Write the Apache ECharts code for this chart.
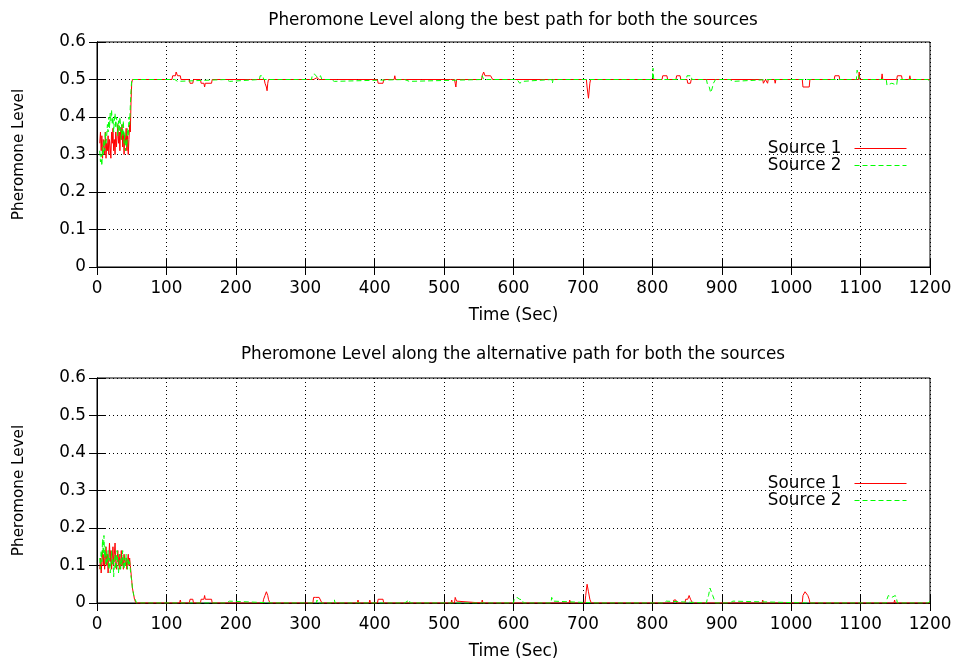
<!DOCTYPE html>
<html>
<head>
<meta charset="utf-8">
<title>Pheromone Level</title>
<script src="https://cdn.jsdelivr.net/npm/echarts@6/dist/echarts.min.js"></script>
<style>
  html, body { margin: 0; padding: 0; background: #fff; }
  #chart { width: 958px; height: 664px; }
</style>
</head>
<body>
<div id="chart"></div>
<script>
// Tick labels
const xTicks = [0, 100, 200, 300, 400, 500, 600, 700, 800, 900, 1000, 1100, 1200];
const yTicks = [0, 0.1, 0.2, 0.3, 0.4, 0.5, 0.6];
const seriesNames = ['Source 1', 'Source 2'];

// Warm-up phase, sampled every second
const warmupSec = [4,5,6,7,8,9,10,11,12,13,14,15,16,17,18,19,20,21,22,23,24,25,26,27,28,29,30,
  31,32,33,34,35,36,37,38,39,40,41,42,43,44,45,46,47,48,49,50];

const warmupBestS1 = [0.33,0.36,0.31,0.35,0.29,0.34,0.32,0.30,0.36,0.29,0.33,0.31,0.35,0.30,0.34,0.32,
  0.29,0.36,0.33,0.37,0.31,0.34,0.30,0.36,0.32,0.35,0.38,0.33,0.36,0.31,0.37,0.34,0.38,0.32,0.36,0.30,
  0.35,0.33,0.37,0.31,0.35,0.30,0.34,0.38,0.36,0.44,0.49];
const warmupBestS2 = [0.31,0.28,0.30,0.27,0.32,0.30,0.34,0.31,0.36,0.33,0.35,0.38,0.36,0.40,0.37,0.41,
  0.39,0.42,0.38,0.40,0.36,0.39,0.41,0.37,0.40,0.38,0.35,0.39,0.36,0.40,0.37,0.34,0.38,0.35,0.39,0.33,
  0.36,0.31,0.34,0.32,0.37,0.35,0.40,0.38,0.43,0.47,0.50];
const warmupAltS1 = [0.09,0.12,0.08,0.11,0.14,0.10,0.13,0.09,0.12,0.15,0.10,0.13,0.08,0.12,0.16,0.11,
  0.14,0.09,0.12,0.15,0.10,0.13,0.16,0.11,0.09,0.12,0.14,0.10,0.13,0.09,0.11,0.14,0.10,0.12,0.09,0.13,
  0.11,0.10,0.12,0.09,0.11,0.13,0.10,0.12,0.10,0.08,0.06];
const warmupAltS2 = [0.12,0.09,0.14,0.11,0.17,0.13,0.18,0.12,0.15,0.10,0.13,0.11,0.14,0.09,0.12,0.08,
  0.11,0.14,0.10,0.12,0.07,0.10,0.13,0.09,0.12,0.14,0.10,0.08,0.11,0.13,0.09,0.12,0.10,0.14,0.11,0.09,
  0.12,0.10,0.13,0.11,0.09,0.12,0.10,0.11,0.09,0.07,0.06];

// Steady phase: [second, level] samples around every excursion from the settled level
const steadyBestS1 = [[51,0.5],[108,0.5],[109,0.51],[113,0.51],[114,0.52],[116,0.51],[120,0.51],[121,0.5],
  [133,0.5],[134,0.49],[138,0.49],[139,0.5],
  [149,0.5],[150,0.49],[154,0.49],[155,0.48],[156,0.49],[165,0.49],[166,0.5],
  [201,0.5],[202,0.495],[203,0.5],[221,0.5],[222,0.495],[223,0.5],
  [241,0.5],[242,0.49],[244,0.48],[245,0.47],[246,0.49],[247,0.5],
  [312,0.5],[313,0.505],[317,0.505],[318,0.5],[320,0.5],[321,0.495],[322,0.5],
  [346,0.5],[347,0.495],[348,0.5],[375,0.5],[376,0.495],[377,0.5],
  [404,0.5],[405,0.49],[412,0.49],[413,0.5],[428,0.5],[429,0.51],[430,0.5],
  [467,0.5],[468,0.505],[469,0.5],[497,0.5],[498,0.495],[499,0.5],
  [509,0.5],[510,0.495],[511,0.5],[515,0.5],[516,0.49],[517,0.48],[518,0.5],
  [554,0.5],[555,0.51],[557,0.52],[559,0.51],[562,0.51],[564,0.515],[567,0.51],[569,0.51],[570,0.5],
  [680,0.5],[681,0.495],[682,0.5],
  [705,0.5],[706,0.48],[708,0.45],[710,0.49],[711,0.5],
  [814,0.5],[815,0.51],[821,0.51],[822,0.5],[834,0.5],[835,0.51],[840,0.51],[841,0.5],
  [850,0.5],[851,0.49],[855,0.49],[856,0.5],
  [959,0.5],[960,0.49],[962,0.49],[963,0.5],[965,0.5],[966,0.49],[967,0.5],
  [976,0.5],[977,0.49],[978,0.5],[990,0.5],[991,0.495],[992,0.5],
  [1016,0.5],[1017,0.48],[1026,0.48],[1027,0.5],[1040,0.5],[1041,0.495],[1042,0.5],
  [1062,0.5],[1063,0.51],[1069,0.51],[1070,0.5],[1097,0.5],[1098,0.52],[1099,0.5],
  [1130,0.5],[1131,0.515],[1132,0.5],[1152,0.5],[1153,0.51],[1159,0.51],[1160,0.5],
  [1170,0.5],[1171,0.51],[1172,0.5],[1200,0.5]];
const steadyBestS2 = [[51,0.5],[112,0.5],[113,0.495],[116,0.495],[117,0.5],
  [186,0.5],[187,0.495],[191,0.495],[192,0.5],
  [234,0.5],[235,0.51],[237,0.515],[239,0.51],[240,0.5],
  [254,0.5],[255,0.495],[256,0.5],[289,0.5],[290,0.495],[291,0.5],
  [309,0.5],[310,0.51],[313,0.515],[315,0.51],[318,0.505],[322,0.51],[324,0.5],
  [337,0.5],[338,0.495],[342,0.495],[343,0.5],
  [443,0.5],[444,0.495],[450,0.495],[451,0.5],
  [554,0.5],[555,0.51],[557,0.5],[572,0.5],[573,0.495],[574,0.5],
  [605,0.5],[606,0.495],[609,0.49],[613,0.495],[614,0.5],
  [655,0.5],[656,0.49],[657,0.5],
  [719,0.5],[720,0.495],[721,0.5],[744,0.5],[745,0.495],[746,0.5],[762,0.5],[763,0.495],[764,0.5],
  [800,0.5],[801,0.53],[802,0.5],[849,0.5],[850,0.51],[856,0.51],[857,0.5],
  [878,0.5],[879,0.49],[882,0.48],[884,0.465],[886,0.475],[888,0.49],[890,0.495],[891,0.5],
  [912,0.5],[913,0.495],[916,0.495],[917,0.5],[969,0.5],[970,0.495],[971,0.5],
  [1024,0.5],[1025,0.495],[1026,0.5],[1043,0.5],[1044,0.505],[1045,0.5],
  [1076,0.5],[1077,0.505],[1078,0.5],[1094,0.5],[1095,0.525],[1097,0.51],[1099,0.5],
  [1115,0.5],[1116,0.495],[1117,0.5],
  [1137,0.5],[1138,0.485],[1145,0.49],[1152,0.485],[1153,0.5],
  [1197,0.5],[1198,0.495],[1200,0.495]];
const steadyAltS1 = [[51,0.04],[52,0.03],[53,0.02],[54,0.01],[55,0.005],[56,0],
  [119,0],[120,0.008],[121,0],[133,0],[134,0.01],[138,0.01],[139,0],
  [149,0],[150,0.01],[154,0.01],[155,0.02],[156,0.01],[165,0.01],[166,0],
  [201,0],[202,0.005],[203,0],[221,0],[222,0.005],[223,0],
  [239,0],[240,0.01],[242,0.02],[244,0.03],[246,0.02],[247,0.01],[249,0],
  [311,0],[312,0.015],[315,0.015],[316,0.01],[320,0.015],[324,0],
  [346,0],[347,0.005],[348,0],[375,0],[376,0.008],[377,0],[392,0],[393,0.008],[394,0],
  [404,0],[405,0.01],[412,0.01],[413,0],
  [510,0],[511,0.008],[512,0],[515,0],[516,0.015],[517,0.02],[518,0.005],[519,0],
  [554,0],[555,0.008],[556,0],[680,0],[681,0.008],[682,0],
  [703,0],[704,0.02],[706,0.05],[708,0.03],[710,0.01],[712,0],
  [793,0],[794,0.005],[795,0],[830,0],[831,0.008],[834,0.008],[835,0],
  [847,0],[848,0.01],[851,0.01],[853,0.02],[855,0.01],[858,0],
  [947,0],[948,0.005],[949,0],[958,0],[959,0.008],[960,0],[990,0],[991,0.005],[992,0],
  [1016,0],[1017,0.02],[1020,0.03],[1024,0.02],[1026,0.01],[1027,0],
  [1120,0],[1121,0.005],[1122,0],[1148,0],[1149,0.008],[1150,0],[1200,0]];
const steadyAltS2 = [[51,0.04],[52,0.03],[53,0.02],[54,0.015],[55,0.01],[56,0.005],[57,0],
  [186,0],[187,0.005],[191,0.005],[192,0],
  [254,0],[255,0.005],[256,0],[289,0],[290,0.005],[291,0],
  [316,0],[317,0.008],[318,0],[337,0],[338,0.005],[342,0.008],[343,0],
  [443,0],[444,0.005],[450,0.008],[451,0],[467,0],[468,0.005],[469,0],
  [544,0],[545,0.005],[546,0],[561,0],[562,0.005],[563,0],
  [600,0],[601,0.01],[605,0.015],[609,0.01],[613,0.008],[614,0],
  [654,0],[655,0.015],[657,0.005],[658,0],
  [719,0],[720,0.005],[721,0],[755,0],[756,0.005],[757,0],[762,0],[763,0.005],[764,0],
  [802,0],[803,0.005],[804,0],[817,0],[818,0.005],[820,0.005],[821,0],
  [878,0],[879,0.01],[881,0.02],[883,0.04],[885,0.03],[887,0.02],[889,0.01],[891,0],
  [912,0],[913,0.005],[916,0.005],[917,0],
  [1024,0],[1025,0.005],[1026,0],[1043,0],[1044,0.005],[1045,0],
  [1115,0],[1116,0.005],[1117,0],
  [1137,0],[1138,0.01],[1140,0.02],[1145,0.015],[1150,0.02],[1152,0.01],[1153,0],
  [1178,0],[1179,0.005],[1180,0],[1197,0],[1198,0.005],[1200,0.005]];

// Join the warm-up samples with the steady-phase samples
function buildSeries(warmup, steady) {
  return warmupSec.map((t, i) => [t, warmup[i]]).concat(steady);
}

const FONT = '"DejaVu Sans", Verdana, sans-serif';
const FS = 16.8;
const RED = '#ff0000';
const GREEN = '#00ff00';
const gridLine = { show: true, lineStyle: { color: '#000', width: 1, type: [1, 3] } };
const tick = { show: true, inside: true, length: 8, lineStyle: { color: '#000' } };
const axisLineStyle = { show: true, lineStyle: { color: '#000', width: 1 } };

const plots = [
  { top: 42, title: 'Pheromone Level along the best path for both the sources', titleTop: 12, legendTop: 140 },
  { top: 378, title: 'Pheromone Level along the alternative path for both the sources', titleTop: 346, legendTop: 475 }
];
const PLOT_H = 225;

const xAxes = [], yAxes = [], grids = [], titles = [], legends = [];
plots.forEach((p, gi) => {
  grids.push({ left: 97, right: 28, top: p.top, height: PLOT_H, show: true, borderColor: '#000', borderWidth: 1, containLabel: false });
  titles.push({ text: p.title, left: 513, top: p.titleTop, textAlign: 'center', padding: 0,
    textStyle: { fontFamily: FONT, fontSize: FS, fontWeight: 'normal', color: '#000' } });
  legends.push({
    data: seriesNames, orient: 'vertical', right: 51, top: p.legendTop, align: 'right',
    padding: 0, itemWidth: 52, itemHeight: 10, itemGap: 0,
    itemStyle: { opacity: 0 },
    lineStyle: { width: 1 },
    textStyle: { fontFamily: FONT, fontSize: FS, lineHeight: 17, color: '#000', padding: [0, 8, 0, 0] },
    selectedMode: false
  });
  const xMin = xTicks[0], xMax = xTicks[xTicks.length - 1];
  const yMin = yTicks[0], yMax = yTicks[yTicks.length - 1];
  xAxes.push({
    gridIndex: gi, type: 'value', position: 'bottom', min: xMin, max: xMax, interval: 100,
    name: 'Time (Sec)', nameLocation: 'middle', nameGap: 40,
    nameTextStyle: { fontFamily: FONT, fontSize: FS, color: '#000' },
    axisLine: axisLineStyle, axisTick: tick, splitLine: gridLine,
    axisLabel: { fontFamily: FONT, fontSize: FS, color: '#000', margin: 13, formatter: v => String(v) }
  });
  xAxes.push({
    gridIndex: gi, type: 'value', position: 'top', min: xMin, max: xMax, interval: 100,
    axisLine: axisLineStyle, axisTick: tick, splitLine: { show: false }, axisLabel: { show: false }
  });
  yAxes.push({
    gridIndex: gi, type: 'value', position: 'left', min: yMin, max: yMax, interval: 0.1,
    name: 'Pheromone Level', nameLocation: 'middle', nameGap: 70,
    nameTextStyle: { fontFamily: FONT, fontSize: 15.2, color: '#000' },
    axisLine: axisLineStyle, axisTick: tick, splitLine: gridLine,
    axisLabel: { fontFamily: FONT, fontSize: FS, color: '#000', margin: 11,
      formatter: v => (v === 0 ? '0' : v.toFixed(1)) }
  });
  yAxes.push({
    gridIndex: gi, type: 'value', position: 'right', min: yMin, max: yMax, interval: 0.1,
    axisLine: axisLineStyle, axisTick: tick, splitLine: { show: false }, axisLabel: { show: false }
  });
});

function lineSeries(name, data, gi, color, dashed) {
  return {
    name, type: 'line', data, xAxisIndex: gi * 2, yAxisIndex: gi * 2,
    symbol: 'none', showSymbol: false, smooth: false, animation: false,
    lineStyle: { color, width: 1, type: dashed ? [5, 3] : 'solid' },
    itemStyle: { color }
  };
}

const chart = echarts.init(document.getElementById('chart'), null, { renderer: 'canvas' });
chart.setOption({
  animation: false,
  backgroundColor: '#fff',
  title: titles,
  legend: legends,
  grid: grids,
  xAxis: xAxes,
  yAxis: yAxes,
  series: [
    lineSeries('Source 1', buildSeries(warmupBestS1, steadyBestS1), 0, RED, false),
    lineSeries('Source 2', buildSeries(warmupBestS2, steadyBestS2), 0, GREEN, true),
    lineSeries('Source 1', buildSeries(warmupAltS1, steadyAltS1), 1, RED, false),
    lineSeries('Source 2', buildSeries(warmupAltS2, steadyAltS2), 1, GREEN, true)
  ]
});
</script>
</body>
</html>
